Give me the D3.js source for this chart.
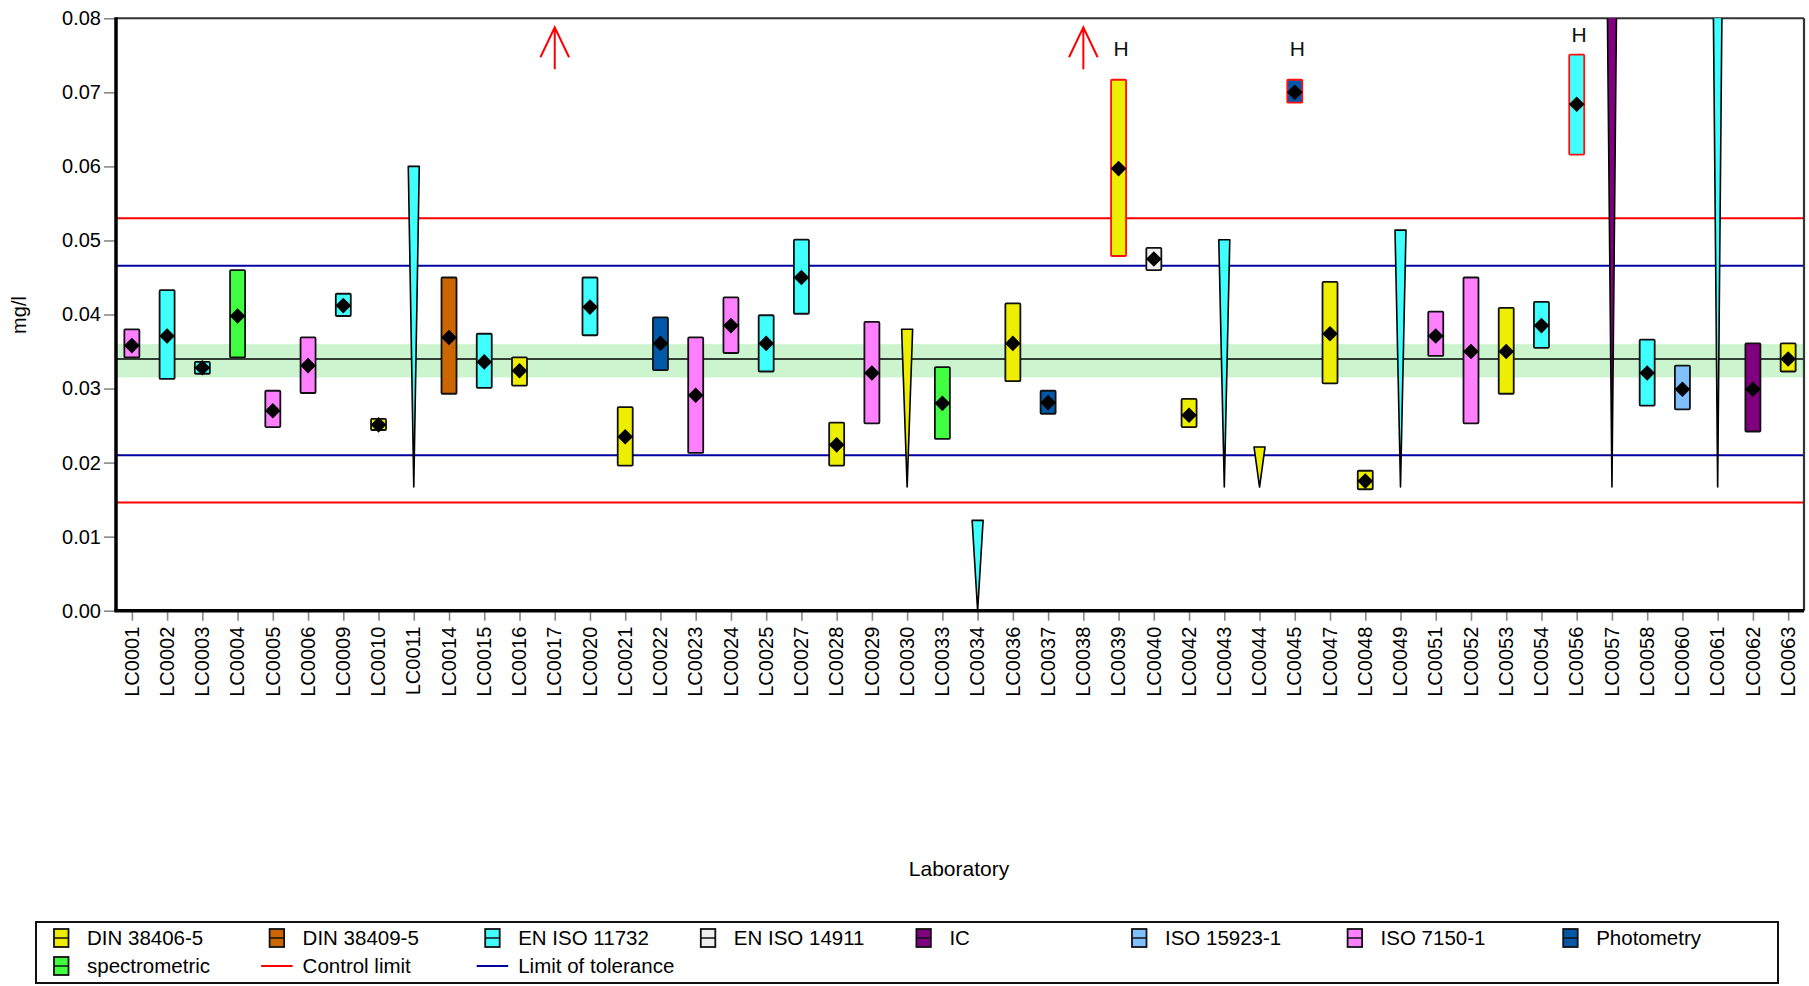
<!DOCTYPE html>
<html>
<head>
<meta charset="utf-8">
<script src="https://cdn.jsdelivr.net/npm/d3@7"></script>
<style>
  html, body { margin: 0; padding: 0; background: #fff; }
  svg { display: block; font-family: "Liberation Sans", Arial, sans-serif; }
</style>
</head>
<body>
<svg id="chart" width="1809" height="986"></svg>
<script>
// ---------------- DATA ----------------
const labs = ["LC0001","LC0002","LC0003","LC0004","LC0005","LC0006","LC0009","LC0010","LC0011","LC0014",
  "LC0015","LC0016","LC0017","LC0020","LC0021","LC0022","LC0023","LC0024","LC0025","LC0027",
  "LC0028","LC0029","LC0030","LC0033","LC0034","LC0036","LC0037","LC0038","LC0039","LC0040",
  "LC0042","LC0043","LC0044","LC0045","LC0047","LC0048","LC0049","LC0051","LC0052","LC0053",
  "LC0054","LC0056","LC0057","LC0058","LC0060","LC0061","LC0062","LC0063"];

const methods = ["ISO 7150-1","EN ISO 11732","EN ISO 11732","spectrometric","ISO 7150-1","ISO 7150-1","EN ISO 11732","DIN 38406-5","EN ISO 11732","DIN 38409-5",
  "EN ISO 11732","DIN 38406-5",null,"EN ISO 11732","DIN 38406-5","Photometry","ISO 7150-1","ISO 7150-1","EN ISO 11732","EN ISO 11732",
  "DIN 38406-5","ISO 7150-1","DIN 38406-5","spectrometric","EN ISO 11732","DIN 38406-5","Photometry",null,"DIN 38406-5","EN ISO 14911",
  "DIN 38406-5","EN ISO 11732","DIN 38406-5","Photometry","DIN 38406-5","DIN 38406-5","EN ISO 11732","ISO 7150-1","ISO 7150-1","DIN 38406-5",
  "EN ISO 11732","EN ISO 11732","IC","EN ISO 11732","ISO 15923-1","EN ISO 11732","IC","DIN 38406-5"];

// mark type: box = value with uncertainty, wedge = value given as range to limit, arrow = off scale high
const markTypes = ["box","box","box","box","box","box","box","box","wedge","box",
  "box","box","arrow","box","box","box","box","box","box","box",
  "box","box","wedge","box","wedge","box","box","arrow","box","box",
  "box","wedge","wedge","box","box","box","wedge","box","box","box",
  "box","box","wedge","box","box","wedge","box","box"];

const means = [0.0358,0.0371,0.0328,0.0398,0.0270,0.0331,0.0412,0.0251,null,0.0369,
  0.0336,0.0324,null,0.0410,0.0235,0.0361,0.0291,0.0385,0.0361,0.0450,
  0.0224,0.0321,null,0.0280,null,0.0361,0.0281,null,0.0597,0.0475,
  0.0264,null,null,0.0700,0.0374,0.0175,null,0.0371,0.0350,0.0350,
  0.0385,0.0684,null,0.0321,0.0299,null,0.0299,0.0340];

const lows = [0.0342,0.0313,0.0320,0.0342,0.0248,0.0294,0.0398,0.0244,0.0167,0.0293,
  0.0301,0.0304,null,0.0372,0.0196,0.0325,0.0213,0.0348,0.0323,0.0401,
  0.0196,0.0253,0.0167,0.0232,0.0000,0.0310,0.0266,null,0.0479,0.0460,
  0.0248,0.0167,0.0167,0.0686,0.0307,0.0164,0.0167,0.0344,0.0253,0.0293,
  0.0355,0.0616,0.0167,0.0277,0.0272,0.0167,0.0242,0.0323];

const highs = [0.0380,0.0433,0.0336,0.0460,0.0297,0.0369,0.0428,0.0259,0.0600,0.0450,
  0.0374,0.0342,null,0.0450,0.0275,0.0396,0.0369,0.0423,0.0399,0.0501,
  0.0254,0.0390,0.0380,0.0329,0.0122,0.0415,0.0297,null,0.0717,0.0490,
  0.0286,0.0501,0.0221,0.0717,0.0444,0.0189,0.0514,0.0404,0.0450,0.0409,
  0.0417,0.0751,0.0940,0.0366,0.0331,0.0990,0.0361,0.0361];

const flaggedLabs = ["LC0039","LC0045","LC0056"];  // outliers marked "H"

const assignedValue = 0.0340;
const assignedBand = [0.0315, 0.0360];
const controlLimits = [0.0146, 0.0530];
const toleranceLimits = [0.0210, 0.0466];

const yTicks = [0.00,0.01,0.02,0.03,0.04,0.05,0.06,0.07,0.08];

const methodNames = ["DIN 38406-5","DIN 38409-5","EN ISO 11732","EN ISO 14911","IC","ISO 15923-1","ISO 7150-1","Photometry","spectrometric"];
const methodColors = ["#eeee00","#cc6600","#40ffff","#f0f0f0","#800080","#80c0ff","#ff80ff","#0058a8","#40ff40"];

// ---------------- LAYOUT ----------------
const svg = d3.select("#chart");
const L = 116, R = 1804, T = 18.3, B = 610.7;
const font = '"Liberation Sans", Arial, sans-serif';

const x = d3.scalePoint().domain(labs).range([L, R]).padding(0.45);
const y = d3.scaleLinear().domain([0, 0.08]).range([B, T]);
const color = d3.scaleOrdinal().domain(methodNames).range(methodColors);

svg.append("defs").append("clipPath").attr("id", "plotclip")
  .append("rect").attr("x", L).attr("y", T).attr("width", R - L).attr("height", B - T);

// band
svg.append("rect").attr("x", L).attr("width", R - L)
  .attr("y", y(assignedBand[1])).attr("height", y(assignedBand[0]) - y(assignedBand[1]))
  .attr("fill", "#ccf5cf");

// reference lines
const refG = svg.append("g");
function hline(v, col, w) {
  refG.append("line").attr("x1", L).attr("x2", R).attr("y1", y(v)).attr("y2", y(v))
    .attr("stroke", col).attr("stroke-width", w);
}
controlLimits.forEach(v => hline(v, "#ff0000", 2));
toleranceLimits.forEach(v => hline(v, "#0000a0", 2));
hline(assignedValue, "#000", 1.6);

// axes
const yAxis = svg.append("g").attr("transform", `translate(${L},0)`)
  .call(d3.axisLeft(y).tickValues(yTicks).tickSize(12).tickPadding(3).tickFormat(d3.format(".2f")));
yAxis.select(".domain").remove();
yAxis.selectAll(".tick line").attr("stroke", "#888").attr("stroke-width", 1.6);
yAxis.selectAll(".tick text").attr("font-size", "20px").attr("font-family", font).attr("fill", "#000");

const xAxis = svg.append("g").attr("transform", `translate(0,${B})`)
  .call(d3.axisBottom(x).tickSize(10).tickSizeOuter(0));
xAxis.select(".domain").remove();
xAxis.selectAll(".tick line").attr("stroke", "#888").attr("stroke-width", 1.6);
xAxis.selectAll(".tick text")
  .attr("font-size", "20px").attr("font-family", font).attr("fill", "#000")
  .attr("text-anchor", "end")
  .attr("transform", "translate(-1,16) rotate(-90)")
  .attr("x", 0).attr("y", 0).attr("dy", "0.36em");

// frame
svg.append("line").attr("x1", L).attr("x2", R).attr("y1", T).attr("y2", T).attr("stroke", "#333").attr("stroke-width", 2);
svg.append("line").attr("x1", R).attr("x2", R).attr("y1", T).attr("y2", B).attr("stroke", "#333").attr("stroke-width", 2.2);
svg.append("line").attr("x1", L - 1.75).attr("x2", R).attr("y1", B).attr("y2", B).attr("stroke", "#000").attr("stroke-width", 3.5);
svg.append("line").attr("x1", L).attr("x2", L).attr("y1", T - 1).attr("y2", B).attr("stroke", "#000").attr("stroke-width", 3.5);

// marks
const marks = svg.append("g").attr("clip-path", "url(#plotclip)");
const boxW = 15, wedgeW = 11, dia = 7.8;

labs.forEach((lab, i) => {
  const cx = x(lab);
  const t = markTypes[i];
  const flagged = flaggedLabs.includes(lab);
  if (t === "box") {
    const yt = y(highs[i]), yb = y(lows[i]);
    marks.append("rect").attr("x", cx - boxW / 2).attr("y", yt)
      .attr("width", boxW).attr("height", yb - yt).attr("rx", 1)
      .attr("fill", color(methods[i]))
      .attr("stroke", flagged ? "#ff1010" : "#111").attr("stroke-width", 1.8);
    const ym = y(means[i]);
    marks.append("line").attr("x1", cx - boxW / 2).attr("x2", cx + boxW / 2)
      .attr("y1", ym).attr("y2", ym).attr("stroke", "#000").attr("stroke-width", 1.4);
    marks.append("path")
      .attr("d", `M${cx},${ym - dia}L${cx + dia},${ym}L${cx},${ym + dia}L${cx - dia},${ym}Z`)
      .attr("fill", "#000");
    if (flagged) {
      const hb = Math.min(y(0.0749), yt - 13);
      svg.append("text").attr("x", cx + 2.5).attr("y", hb).attr("text-anchor", "middle")
        .attr("font-size", "21px").attr("font-family", font).attr("fill", "#111").text("H");
    }
  } else if (t === "wedge") {
    const yt = y(highs[i]), yb = y(lows[i]);
    marks.append("path")
      .attr("d", `M${cx - wedgeW / 2},${yt}L${cx + wedgeW / 2},${yt}L${cx},${yb}Z`)
      .attr("fill", color(methods[i])).attr("stroke", "#000").attr("stroke-width", 1.6)
      .attr("stroke-linejoin", "round");
  } else if (t === "arrow") {
    const tip = T + 9, tail = T + 51, wing = T + 39, ww = 14.3;
    svg.append("path")
      .attr("d", `M${cx},${tail}L${cx},${tip}M${cx - ww},${wing}L${cx},${tip}L${cx + ww},${wing}`)
      .attr("fill", "none").attr("stroke", "#ff0000").attr("stroke-width", 2);
  }
});

// axis titles
svg.append("text").attr("transform", "translate(26,315) rotate(-90)").attr("text-anchor", "middle")
  .attr("font-size", "20px").attr("font-family", font).attr("fill", "#000").text("mg/l");
svg.append("text").attr("x", 959).attr("y", 876).attr("text-anchor", "middle")
  .attr("font-size", "21px").attr("font-family", font).attr("fill", "#000").text("Laboratory");

// legend
const leg = svg.append("g");
leg.append("rect").attr("x", 36).attr("y", 922).attr("width", 1742).attr("height", 61)
  .attr("fill", "#fff").attr("stroke", "#111").attr("stroke-width", 2);
const legendItems = methodNames.map(m => ({label: m, kind: "box", col: color(m)}))
  .concat([{label: "Control limit", kind: "line", col: "#ff0000"},
           {label: "Limit of tolerance", kind: "line", col: "#0000a0"}]);
const colStep = 215.6, rowY = [938, 966];
legendItems.forEach((it, k) => {
  const row = k < 8 ? 0 : 1;
  const col = k < 8 ? k : k - 8;
  const sx = 54 + col * colStep, cy = rowY[row];
  if (it.kind === "box") {
    leg.append("rect").attr("x", sx).attr("y", cy - 9).attr("width", 14.5).attr("height", 18)
      .attr("fill", it.col).attr("stroke", "#111").attr("stroke-width", 1.8);
    leg.append("line").attr("x1", sx).attr("x2", sx + 14.5).attr("y1", cy).attr("y2", cy)
      .attr("stroke", "#111").attr("stroke-width", 1.5);
  } else {
    leg.append("line").attr("x1", sx - 8.5).attr("x2", sx + 23).attr("y1", cy).attr("y2", cy)
      .attr("stroke", it.col).attr("stroke-width", 2);
  }
  leg.append("text").attr("x", sx + 33).attr("y", cy + 7)
    .attr("font-size", "20.5px").attr("font-family", font).attr("fill", "#000").text(it.label);
});
</script>
</body>
</html>
